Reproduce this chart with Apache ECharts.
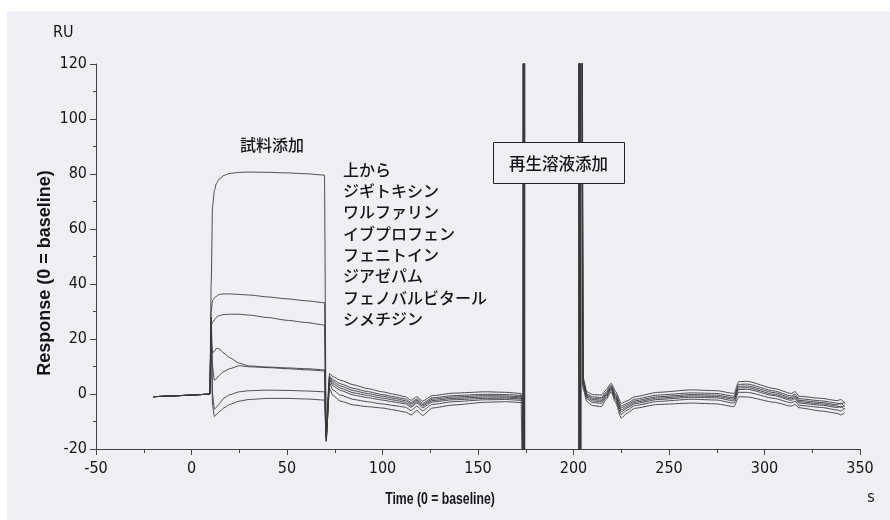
<!DOCTYPE html>
<html><head><meta charset="utf-8">
<script src="https://cdn.jsdelivr.net/npm/echarts@6/dist/echarts.min.js"></script>
<style>html,body{margin:0;padding:0;background:#fff}#c{width:890px;height:520px}</style>
</head><body><div id="c"></div>
<script>
// time axis (s)
const time = [-20, -10, 0, 8, 9.6, 10.3, 11, 12, 13, 14.5, 17, 20, 25, 30, 40, 50, 60, 69.6, 70.5,
  72.3, 74, 78, 85, 92, 100, 106, 112, 115, 118, 121, 126, 137, 154, 165, 172.5,
  173.4, 173.58, 173.76, 173.94, 174.12, 174.3, 174.48, 174.66,
  190, 202.6,
  202.8, 202.98, 203.16, 203.34, 203.52, 203.7, 203.88, 204.06,
  205.0, 207, 210, 214.6, 217, 219.7, 222, 225, 228, 232, 244, 262, 275, 284, 286.5, 291, 305, 314, 316, 318, 330, 338, 340, 342];

const seriesNames = ['ジギトキシン', 'ワルファリン', 'イブプロフェン', 'フェニトイン', 'ジアゼパム', 'フェノバルビタール', 'シメチジン'];

const digitoxin = [
  -1.0, -0.7, -0.4, -0.1, 0.0, 40, 68, 74, 76.5, 78.2, 79.5, 80.2, 80.6, 80.7, 80.6, 80.4, 80.1, 79.6, -12,
  7.5, 6.3, 5.0, 3.3, 2.0, 0.8, -0.1, -1.0, -2.3, -1.0, -2.6, -0.6, 0.3, 0.8, 0.6, 0.2,
  -40, 400, 400, 400, 400, 400, 400, 400,
  400, 400,
  -40, 400, 400, 400, 400, 400, 400, 400,
  6.0, 0.8, -0.2, -0.4, 1.5, 3.9, 1.0, -3.4, -2.5, -1.0, 0.6, 1.5, 1.2, 0.2, 4.5, 4.6, 2.0, 0.2, 0.9, -0.8, -1.6, -2.4, -2.0, -3.4];
const warfarin = [
  -1.0, -0.7, -0.4, -0.1, 0.0, 30, 34, 35, 35.5, 36.2, 36.4, 36.4, 36.2, 36.0, 35.3, 34.6, 33.9, 33.2, -14,
  6.5, 5.2, 3.7, 2.0, 0.9, -0.2, -1.0, -1.8, -3.1, -1.8, -3.4, -1.4, -0.6, -0.1, -0.2, -0.5,
  -0.5, -40, 400, 400, 400, 400, 400, 400,
  400, 400,
  400, -40, 400, 400, 400, 400, 400, 400,
  5.0, 0.0, -1.0, -1.3, 0.6, 3.2, 0.0, -4.4, -3.4, -1.9, -0.4, 0.4, 0.2, -0.8, 3.5, 3.6, 1.1, -0.7, -0.1, -1.7, -2.5, -3.3, -3.6, -3.0];
const ibuprofen = [
  -1.0, -0.7, -0.4, -0.1, 0.0, 25, 26, 27, 27.8, 28.5, 28.9, 29.0, 29.0, 28.7, 27.8, 26.8, 26.0, 25.1, -15,
  6.0, 4.5, 2.9, 1.2, 0.2, -0.8, -1.6, -2.4, -3.6, -2.3, -3.9, -1.9, -1.1, -0.6, -0.7, -1.0,
  -1.0, -1.0, -40, 400, 400, 400, 400, 400,
  400, 400,
  400, 400, -40, 400, 400, 400, 400, 400,
  4.5, -0.4, -1.5, -1.8, 0.1, 2.8, -0.6, -5.1, -4.0, -2.5, -1.0, -0.2, -0.4, -1.4, 2.8, 2.9, 0.5, -1.3, -0.7, -2.3, -3.1, -3.9, -3.3, -4.6];
const phenytoin = [
  -1.0, -0.7, -0.4, -0.1, 0.0, 20, 15, 15.5, 16.6, 16.4, 14.8, 13.2, 11.2, 10.2, 9.8, 9.5, 9.2, 8.8, -17,
  5.5, 3.8, 2.1, 0.4, -0.5, -1.5, -2.2, -3.0, -4.2, -2.8, -4.4, -2.4, -1.6, -1.1, -1.1, -1.4,
  -1.4, -1.4, -1.4, -40, 400, 400, 400, 400,
  400, 400,
  400, 400, 400, -40, 400, 400, 400, 400,
  4.0, -0.8, -2.0, -2.3, -0.4, 2.4, -1.1, -5.8, -4.6, -3.0, -1.5, -0.7, -0.9, -1.9, 2.2, 2.3, -0.1, -1.8, -1.2, -2.8, -3.6, -4.4, -4.9, -4.0];
const diazepam = [
  -1.0, -0.7, -0.4, -0.1, 0.0, 28, 10, 5, 5.5, 6.8, 8.2, 9.2, 10.3, 9.9, 9.6, 9.2, 8.8, 8.4, -16,
  5.0, 3.0, 1.3, -0.4, -1.3, -2.2, -2.9, -3.6, -4.8, -3.3, -5.0, -2.9, -2.1, -1.6, -1.5, -1.8,
  -1.8, -1.8, -1.8, -1.8, -40, 400, 400, 400,
  400, 400,
  400, 400, 400, 400, -40, 400, 400, 400,
  3.5, -1.2, -2.5, -2.8, -0.9, 2.0, -1.6, -6.5, -5.1, -3.5, -2.0, -1.2, -1.4, -2.5, 1.6, 1.7, -0.6, -2.3, -1.7, -3.3, -4.1, -4.9, -4.4, -5.6];
const phenobarbital = [
  -1.0, -0.7, -0.4, -0.1, 0.0, 25, 0, -5.5, -4.8, -3.5, -1.5, -0.3, 0.8, 1.2, 1.4, 1.3, 1.1, 0.8, -17.3,
  4.0, 1.5, -0.4, -2.0, -2.8, -3.6, -4.2, -4.8, -6.0, -4.4, -6.1, -3.8, -2.8, -2.1, -2.0, -2.3,
  -2.3, -2.3, -2.3, -2.3, -2.3, -40, 400, 400,
  400, 400,
  400, 400, 400, 400, 400, -40, 400, 400,
  3.0, -1.8, -3.1, -3.4, -1.3, 1.6, -2.2, -7.4, -5.9, -4.2, -2.7, -1.9, -2.2, -3.3, 0.6, 0.6, -1.6, -3.2, -2.6, -4.1, -4.9, -5.8, -6.2, -5.2];
const cimetidine = [
  -1.0, -0.7, -0.4, -0.1, 0.0, 22, -4, -8.2, -7.5, -6.5, -5.0, -3.8, -2.6, -2.0, -1.6, -1.6, -1.8, -2.2, -16,
  2.0, -0.5, -2.6, -4.0, -4.6, -5.1, -5.8, -6.6, -7.6, -6.0, -7.8, -5.1, -4.0, -3.0, -2.8, -3.1,
  -3.1, -3.1, -3.1, -3.1, -3.1, -3.1, -40, 400,
  400, 400,
  400, 400, 400, 400, 400, 400, -40, 400,
  2.0, -2.8, -4.2, -4.6, -2.0, 0.8, -3.0, -8.8, -7.0, -5.2, -3.8, -3.3, -3.6, -4.6, -1.0, -1.1, -3.0, -4.4, -3.8, -5.0, -6.2, -7.0, -7.6, -6.8];

const seriesValues = [digitoxin, warfarin, ibuprofen, phenytoin, diazepam, phenobarbital, cimetidine];

const xTicks = { min: -50, max: 350, interval: 50 };
const yTicks = { min: -20, max: 120, interval: 20 };

const listLines = ['上から'].concat(seriesNames);

const numFont = '"Liberation Sans Narrow", "DejaVu Sans Condensed", "Liberation Sans", sans-serif';
const jpFont = '"Noto Sans CJK JP", sans-serif';
const txt = '#151515';

const chart = echarts.init(document.getElementById('c'), null, { renderer: 'canvas' });

function label(text, x, y, font, align, extra) {
  return Object.assign({ type: 'text', z: 100, x: x, y: y, style: { text: text, x: 0, y: 0, font: font, fill: txt,
    textAlign: align, textVerticalAlign: 'middle', align: align, verticalAlign: 'middle' } }, extra || {});
}

const graphics = [
  { type: 'rect', shape: { x: 0, y: 0, width: 890, height: 11 }, style: { fill: '#ffffff' }, z: 1 },
  { type: 'rect', shape: { x: 0, y: 0, width: 7, height: 520 }, style: { fill: '#ffffff' }, z: 1 },
  label('RU', 53, 33, '16px ' + numFont, 'left'),
  label('s', 871, 498, '16px ' + numFont, 'center'),
  label('Time (0 = baseline)', 440, 499, 'bold 17px "Liberation Sans", sans-serif', 'center', { scaleX: 0.72, scaleY: 1 }),
  label('Response (0 = baseline)', 45, 273, 'bold 18px "Liberation Sans", sans-serif', 'center', { rotation: Math.PI / 2 }),
  label('試料添加', 240, 145, '500 16px ' + jpFont, 'left'),
  { type: 'rect', z: 100, shape: { x: 493.5, y: 142.5, width: 131, height: 41 }, style: { fill: '#efeef5', stroke: '#222', lineWidth: 1 } },
  label('再生溶液添加', 558.5, 164, '500 16.5px ' + jpFont, 'center', { z: 101 })
];
listLines.forEach(function (s, i) {
  graphics.push(label(s, 343, 169.5 + i * 21.35, '500 16px ' + jpFont, 'left'));
});

const axisCommon = {
  axisLine: { show: true, onZero: false, lineStyle: { color: '#444', width: 1 } },
  axisTick: { show: true, length: 6, lineStyle: { color: '#444' } },
  splitLine: { show: false },
  axisLabel: { color: txt, fontSize: 16, fontFamily: numFont }
};

chart.setOption({
  animation: false,
  backgroundColor: '#efeef5',
  grid: { left: 96, right: 30, top: 64, bottom: 71 },
  xAxis: Object.assign({ type: 'value', min: xTicks.min, max: xTicks.max, interval: xTicks.interval,
    minorTick: { show: true, splitNumber: 2, length: 4, lineStyle: { color: '#444' } } }, axisCommon,
    { axisLabel: Object.assign({}, axisCommon.axisLabel, { margin: 12 }) }),
  yAxis: Object.assign({ type: 'value', min: yTicks.min, max: yTicks.max, interval: yTicks.interval,
    minorTick: { show: true, splitNumber: 2, length: 3, lineStyle: { color: '#444' } } }, axisCommon,
    { axisLabel: Object.assign({}, axisCommon.axisLabel, { margin: 9 }) }),
  graphic: graphics,
  series: seriesValues.map(function (vals, k) {
    return {
      name: seriesNames[k], type: 'line', showSymbol: false, symbol: 'none', clip: true,
      smooth: 0.2, smoothMonotone: 'x',
      lineStyle: { color: '#3a3a3a', width: 0.9 },
      data: time.map(function (t, i) { return [t, vals[i]]; })
    };
  })
});
</script></body></html>
